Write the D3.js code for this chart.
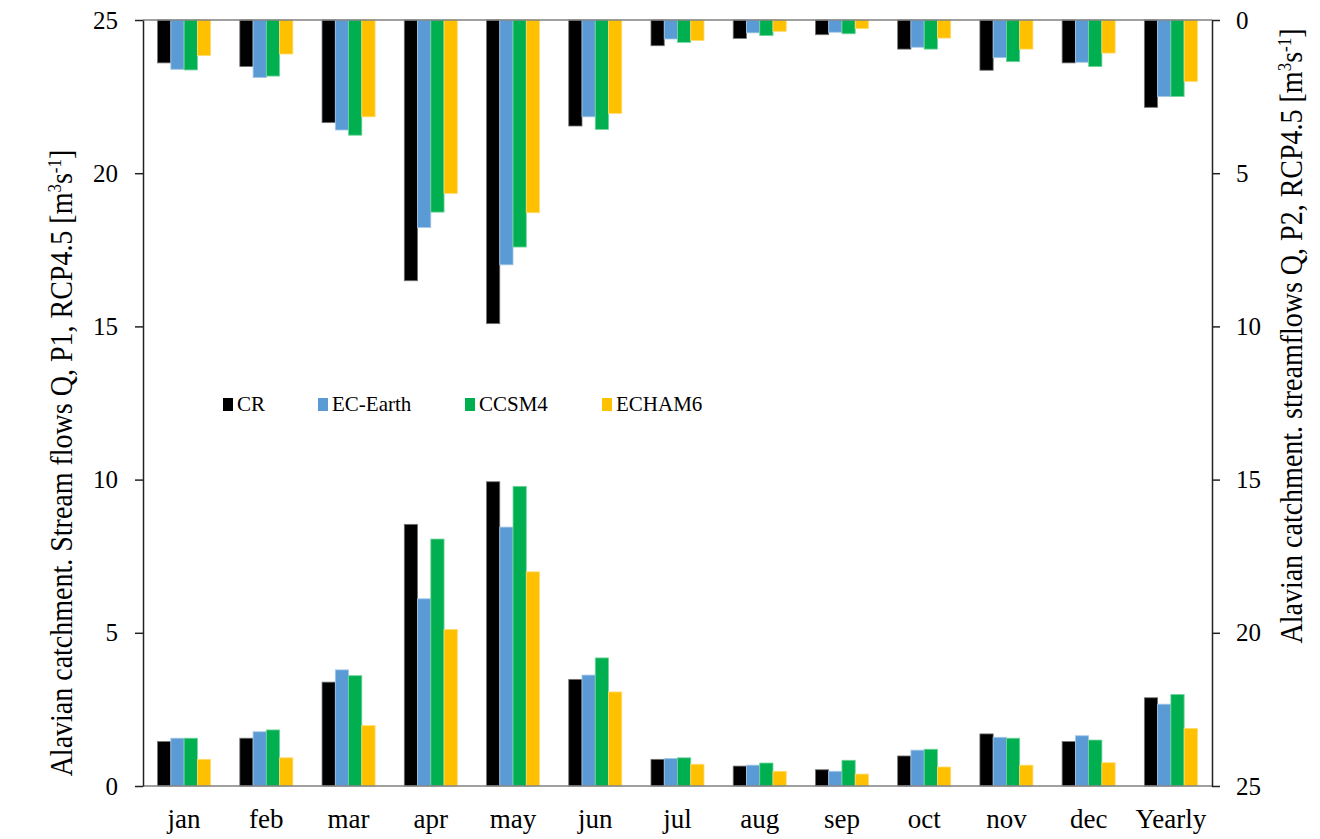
<!DOCTYPE html>
<html>
<head>
<meta charset="utf-8">
<script src="https://cdn.jsdelivr.net/npm/d3@7"></script>
<style>
  body { margin: 0; background: #fff; }
  svg text { font-family: "Liberation Serif", "Times New Roman", serif; fill: #000; }
</style>
</head>
<body>
<div id="chart"></div>
<script>
var months = ["jan", "feb", "mar", "apr", "may", "jun", "jul", "aug", "sep", "oct", "nov", "dec", "Yearly"]
var series = ["CR", "EC-Earth", "CCSM4", "ECHAM6"]
var seriesColors = ["#000000", "#5b9bd5", "#00b050", "#ffc000"]

// period P1 (bottom bars, left axis)
var p1CR      = [1.45, 1.56, 3.39, 8.54, 9.93, 3.48, 0.87, 0.65, 0.53, 0.98, 1.70, 1.45, 2.88]
var p1ECEarth = [1.56, 1.77, 3.79, 6.11, 8.45, 3.62, 0.90, 0.68, 0.48, 1.17, 1.59, 1.64, 2.67]
var p1CCSM4   = [1.56, 1.83, 3.60, 8.06, 9.78, 4.18, 0.92, 0.75, 0.84, 1.20, 1.56, 1.50, 2.99]
var p1ECHAM6  = [0.87, 0.92, 1.97, 5.11, 6.99, 3.07, 0.71, 0.48, 0.39, 0.62, 0.68, 0.76, 1.88]

// period P2 (top bars hanging down, right axis reversed)
var p2CR      = [1.40, 1.52, 3.35, 8.51, 9.91, 3.46, 0.84, 0.60, 0.48, 0.95, 1.64, 1.40, 2.85]
var p2ECEarth = [1.61, 1.88, 3.59, 6.77, 7.99, 3.16, 0.62, 0.42, 0.40, 0.89, 1.23, 1.38, 2.50]
var p2CCSM4   = [1.63, 1.83, 3.76, 6.27, 7.41, 3.57, 0.73, 0.51, 0.45, 0.95, 1.36, 1.52, 2.50]
var p2ECHAM6  = [1.16, 1.11, 3.16, 5.66, 6.29, 3.05, 0.67, 0.37, 0.28, 0.59, 0.95, 1.08, 2.01]

var yTicks = [0, 5, 10, 15, 20, 25]

var p1 = [p1CR, p1ECEarth, p1CCSM4, p1ECHAM6]
var p2 = [p2CR, p2ECEarth, p2CCSM4, p2ECHAM6]

var svg = d3.select("#chart").append("svg")
  .attr("width", 1320)
  .attr("height", 839)

var plotLeft = 143, plotRight = 1212, plotTop = 20, plotBottom = 786

var x0 = d3.scaleBand()
  .domain(months)
  .range([plotLeft, plotRight])
  .paddingInner(0.355)
  .paddingOuter(0.1775)

var x1 = d3.scaleBand()
  .domain(series)
  .range([0, x0.bandwidth()])

var color = d3.scaleOrdinal()
  .domain(series)
  .range(seriesColors)

var yL = d3.scaleLinear().domain([0, 25]).range([plotBottom, plotTop])
var yR = d3.scaleLinear().domain([0, 25]).range([plotTop, plotBottom])

var bottomData = [], topData = []
series.forEach(function (s, si) {
  months.forEach(function (m, mi) {
    bottomData.push({ month: m, series: s, value: p1[si][mi] })
    topData.push({ month: m, series: s, value: p2[si][mi] })
  })
})

function outline(s) {
  return d3.interpolateRgb(color(s), "#ffffff")(0.45)
}

svg.selectAll(".barP1")
  .data(bottomData)
  .enter()
  .append("rect")
  .attr("class", "barP1")
  .attr("x", d => x0(d.month) + x1(d.series))
  .attr("width", x1.bandwidth())
  .attr("y", d => yL(d.value))
  .attr("height", d => yL(0) - yL(d.value))
  .attr("fill", d => color(d.series))
  .attr("stroke", d => outline(d.series))
  .attr("stroke-width", 0.8)

svg.selectAll(".barP2")
  .data(topData)
  .enter()
  .append("rect")
  .attr("class", "barP2")
  .attr("x", d => x0(d.month) + x1(d.series))
  .attr("width", x1.bandwidth())
  .attr("y", yR(0))
  .attr("height", d => yR(d.value) - yR(0))
  .attr("fill", d => color(d.series))
  .attr("stroke", d => outline(d.series))
  .attr("stroke-width", 0.8)

// baselines
svg.append("line")
  .attr("x1", plotLeft).attr("x2", plotRight)
  .attr("y1", plotTop).attr("y2", plotTop)
  .attr("stroke", "#808080").attr("stroke-width", 1.5)

svg.append("line")
  .attr("x1", plotLeft).attr("x2", plotRight)
  .attr("y1", plotBottom).attr("y2", plotBottom)
  .attr("stroke", "#808080").attr("stroke-width", 1.5)

// left axis
var gL = svg.append("g")
  .attr("transform", "translate(" + plotLeft + ",0)")
  .call(d3.axisLeft(yL).tickValues(yTicks).tickSize(8).tickPadding(17).tickSizeOuter(0))
gL.selectAll("text").attr("font-size", 25).attr("font-family", "Liberation Serif")
gL.selectAll("line, path").attr("stroke", "#222").attr("stroke-width", 1.5)

// right axis
var gR = svg.append("g")
  .attr("transform", "translate(" + plotRight + ",0)")
  .call(d3.axisRight(yR).tickValues(yTicks).tickSize(8).tickPadding(16).tickSizeOuter(0))
gR.selectAll("text").attr("font-size", 25).attr("font-family", "Liberation Serif")
gR.selectAll("line, path").attr("stroke", "#222").attr("stroke-width", 1.5)

// category labels
svg.selectAll(".cat")
  .data(months)
  .enter()
  .append("text")
  .attr("class", "cat")
  .text(d => d)
  .attr("x", d => x0(d) + x0.bandwidth() / 2)
  .attr("y", 828)
  .attr("text-anchor", "middle")
  .attr("font-size", 27)

// axis titles
function unitTitle(g, label) {
  var t = g.append("text")
    .attr("text-anchor", "middle")
    .attr("font-size", 28)
  t.append("tspan").text(label + " [m")
  t.append("tspan").text("3").attr("font-size", 17).attr("dy", -10)
  t.append("tspan").text("s").attr("dy", 10)
  t.append("tspan").text("-1").attr("font-size", 17).attr("dy", -10)
  t.append("tspan").text("]").attr("dy", 10)
}

var tl = svg.append("g").attr("transform", "translate(72,463) scale(1.1,1) rotate(-90)")
unitTitle(tl, "Alavian catchment. Stream flows Q, P1, RCP4.5")

var tr = svg.append("g").attr("transform", "translate(1302,336) scale(1.1,1) rotate(-90)")
unitTitle(tr, "Alavian catchment. streamflows Q, P2, RCP4.5")

// legend
var legendX = [223, 318, 465, 602]
var legend = svg.selectAll(".legend")
  .data(series)
  .enter()
  .append("g")
  .attr("class", "legend")
  .attr("transform", (d, i) => "translate(" + legendX[i] + ",398)")

legend.append("rect")
  .attr("width", 10)
  .attr("height", 13)
  .attr("fill", d => color(d))

legend.append("text")
  .text(d => d)
  .attr("x", 14)
  .attr("y", 13)
  .attr("font-size", 21)
</script>
</body>
</html>
